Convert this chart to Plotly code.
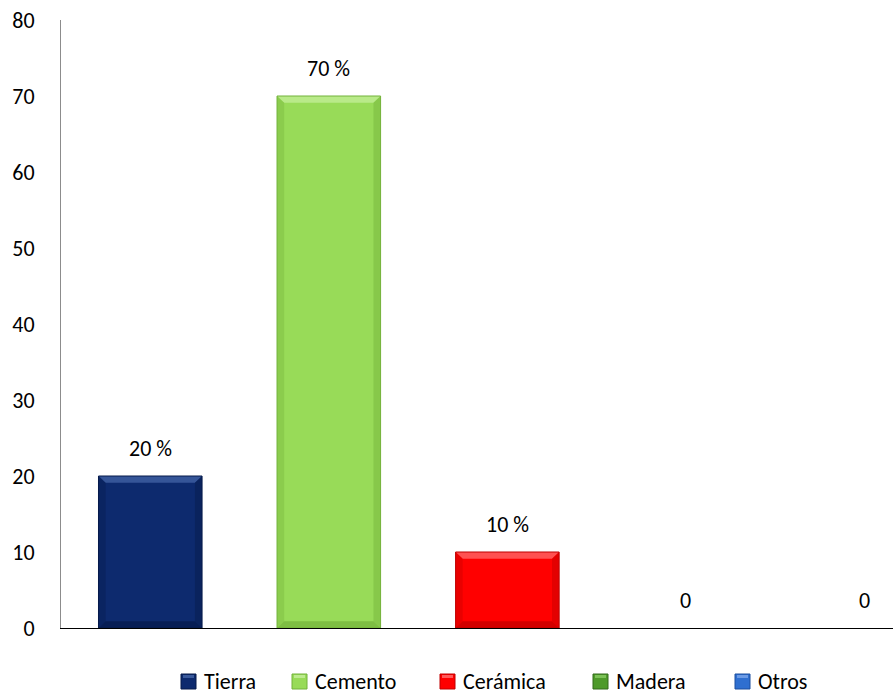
import plotly.graph_objects as go

# Floor material survey results (percent of households)
categories = ["Tierra", "Cemento", "Cerámica", "Madera", "Otros"]
values = [20, 70, 10, 0, 0]
labels = ["20 %", "70 %", "10 %", "0", "0"]
colors = ["#0D2A6E", "#98DB58", "#FF0000", "#4E9A2A", "#2F6FD0"]
light_colors = ["#3A5A9C", "#BDEB8F", "#FF5A5A", "#7CC257", "#6C9BE6"]
dark_colors = ["#061A4A", "#73B23A", "#C00000", "#336B1A", "#1D4F9E"]
y_ticks = [0, 10, 20, 30, 40, 50, 60, 70, 80]

FONT = "Carlito, Calibri, Lato, sans-serif"
FONT_SIZE = 22
BAR_W = 0.58
BEVEL_X = 0.04   # bevel depth along the category axis
BEVEL_Y = 0.9    # bevel depth along the value axis

W, H = 893, 695
M_L, M_R, M_T, M_B = 61, 0, 20, 67
PLOT_W = W - M_L - M_R
PLOT_H = H - M_T - M_B

fig = go.Figure()
for i, cat in enumerate(categories):
    fig.add_trace(go.Bar(
        x=[i], y=[values[i]], name=cat, showlegend=False,
        marker=dict(color=colors[i], line=dict(width=0)),
        width=BAR_W,
    ))

shapes = []
annotations = []
for i, v in enumerate(values):
    annotations.append(dict(
        x=i, y=v, xref="x", yref="y", text=labels[i], showarrow=False,
        yanchor="bottom", yshift=12,
        font=dict(size=FONT_SIZE, family=FONT, color="#000000"),
    ))
    if v <= 0:
        continue
    x0, x1 = i - BAR_W / 2, i + BAR_W / 2
    # bevelled edges: light top, darker sides and bottom
    top = f"M {x0},{v} L {x1},{v} L {x1 - BEVEL_X},{v - BEVEL_Y} L {x0 + BEVEL_X},{v - BEVEL_Y} Z"
    left = f"M {x0},{v} L {x0 + BEVEL_X},{v - BEVEL_Y} L {x0 + BEVEL_X},{BEVEL_Y} L {x0},0 Z"
    right = f"M {x1},{v} L {x1 - BEVEL_X},{v - BEVEL_Y} L {x1 - BEVEL_X},{BEVEL_Y} L {x1},0 Z"
    bottom = f"M {x0},0 L {x1},0 L {x1 - BEVEL_X},{BEVEL_Y} L {x0 + BEVEL_X},{BEVEL_Y} Z"
    for path, col, op in [(top, light_colors[i], 0.9), (left, dark_colors[i], 0.35),
                          (right, dark_colors[i], 0.45), (bottom, dark_colors[i], 0.7)]:
        shapes.append(dict(type="path", path=path, xref="x", yref="y",
                           fillcolor=col, opacity=op, line=dict(width=0), layer="above"))
    shapes.append(dict(type="rect", x0=x0, x1=x1, y0=0, y1=v, xref="x", yref="y",
                       fillcolor="rgba(0,0,0,0)", line=dict(color=dark_colors[i], width=1),
                       layer="above"))


# Legend row below the axis: small bevelled squares followed by names
def px_x(px):
    return (px - M_L) / PLOT_W


def px_y(py):
    return (H - M_B - py) / PLOT_H


legend_x = [181, 292, 440, 593, 735]   # left edge of each legend swatch (px)
SW = 15                                 # swatch size (px)
SW_TOP = 674
for i, cat in enumerate(categories):
    lx = legend_x[i]
    shapes.append(dict(type="rect", xref="paper", yref="paper",
                       x0=px_x(lx), x1=px_x(lx + SW), y0=px_y(SW_TOP + SW), y1=px_y(SW_TOP),
                       fillcolor=colors[i], line=dict(color=dark_colors[i], width=1)))
    shapes.append(dict(type="rect", xref="paper", yref="paper",
                       x0=px_x(lx + 2), x1=px_x(lx + SW - 2), y0=px_y(SW_TOP + 4), y1=px_y(SW_TOP + 1),
                       fillcolor=light_colors[i], line=dict(width=0)))
    annotations.append(dict(
        x=px_x(lx + SW + 6), y=px_y(SW_TOP + SW / 2), xref="paper", yref="paper",
        text=cat, showarrow=False, xanchor="left", yanchor="middle",
        font=dict(size=FONT_SIZE, family=FONT, color="#000000"),
    ))

fig.update_layout(
    width=W, height=H,
    margin=dict(l=M_L, r=M_R, t=M_T, b=M_B),
    paper_bgcolor="white", plot_bgcolor="white",
    barmode="overlay",
    font=dict(family=FONT, size=FONT_SIZE, color="#000000"),
    showlegend=False,
    xaxis=dict(range=[-0.5, 4.16], showticklabels=False, showgrid=False, zeroline=False,
               showline=True, linecolor="#000000", linewidth=1, ticks=""),
    yaxis=dict(range=[0, 80], tickvals=y_ticks, showgrid=False, zeroline=False,
               showline=True, linecolor="#8C8C8C", linewidth=1, ticks="",
               tickfont=dict(size=FONT_SIZE, family=FONT), ticklabelstandoff=21),
    shapes=shapes,
    annotations=annotations,
)

fig.write_html("out.html")
